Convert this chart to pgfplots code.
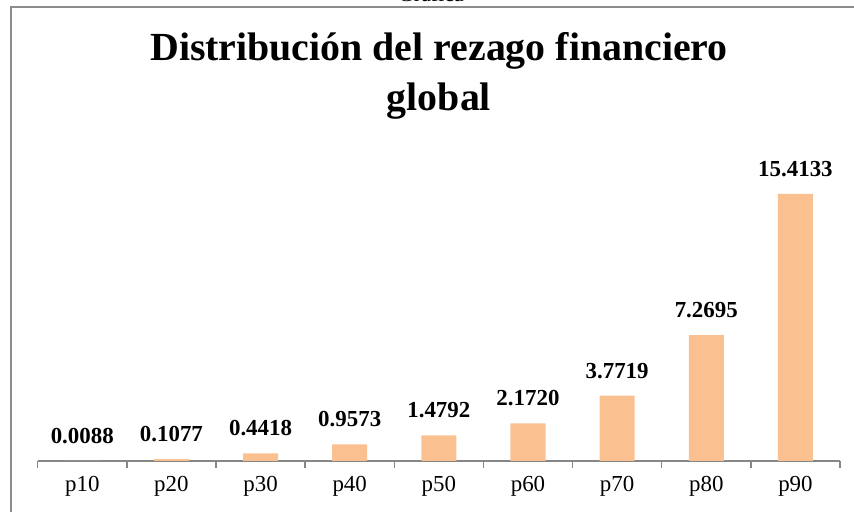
\documentclass[border=0pt]{standalone}
\usepackage{fontspec}
\setmainfont{Liberation Serif}
\usepackage{pgfplots}
\pgfplotsset{compat=1.18}
\definecolor{barfill}{HTML}{FAC090}
\definecolor{axgray}{HTML}{868686}
\definecolor{framegray}{HTML}{8C8C8C}
\begin{document}
\begin{tikzpicture}[x=1bp,y=1bp]
\useasboundingbox (0,0) rectangle (854,512);
% outer frame (only top and left edges visible)
\draw[framegray,line width=1.6bp] (11,-5) -- (11,505) -- (870,505);
% heading above the frame, mostly cut off
\node[anchor=base,font=\fontsize{22}{26}\selectfont,inner sep=0pt] at (431,510.5) {Gráfica};
% title
\node[font=\bfseries\fontsize{40}{50}\selectfont,align=center,anchor=center] at (439,436) {Distribución del rezago financiero\\global};
\begin{axis}[
  at={(37.7bp,51bp)}, anchor=south west,
  scale only axis, width=802.3bp, height=400bp,
  xmin=-0.5, xmax=8.5, ymin=0, ymax=23.09,
  ybar, bar width=35bp,
  axis x line*=bottom, hide y axis,
  axis line style={axgray,line width=1.4bp},
  xtick={0,...,8},
  xticklabels={p10,p20,p30,p40,p50,p60,p70,p80,p90},
  major x tick style={draw=none},
  minor xtick={-0.5,0.5,...,8.5},
  minor tick length=7bp,
  minor x tick style={axgray,line width=1.4bp},
  tick align=outside,
  xticklabel style={font=\fontsize{23}{26}\selectfont,yshift=-7bp},
  nodes near coords,
  nodes near coords style={font=\bfseries\fontsize{23}{26}\selectfont,inner sep=0pt,anchor=south,yshift=17bp,
    /pgf/number format/.cd,fixed,fixed zerofill,precision=4,assume math mode=true},
  clip=false,
]
\addplot[fill=barfill,draw=none] coordinates {
  (0,0.0088) (1,0.1077) (2,0.4418) (3,0.9573) (4,1.4792)
  (5,2.1720) (6,3.7719) (7,7.2695) (8,15.4133)};
\end{axis}
\end{tikzpicture}
\end{document}
